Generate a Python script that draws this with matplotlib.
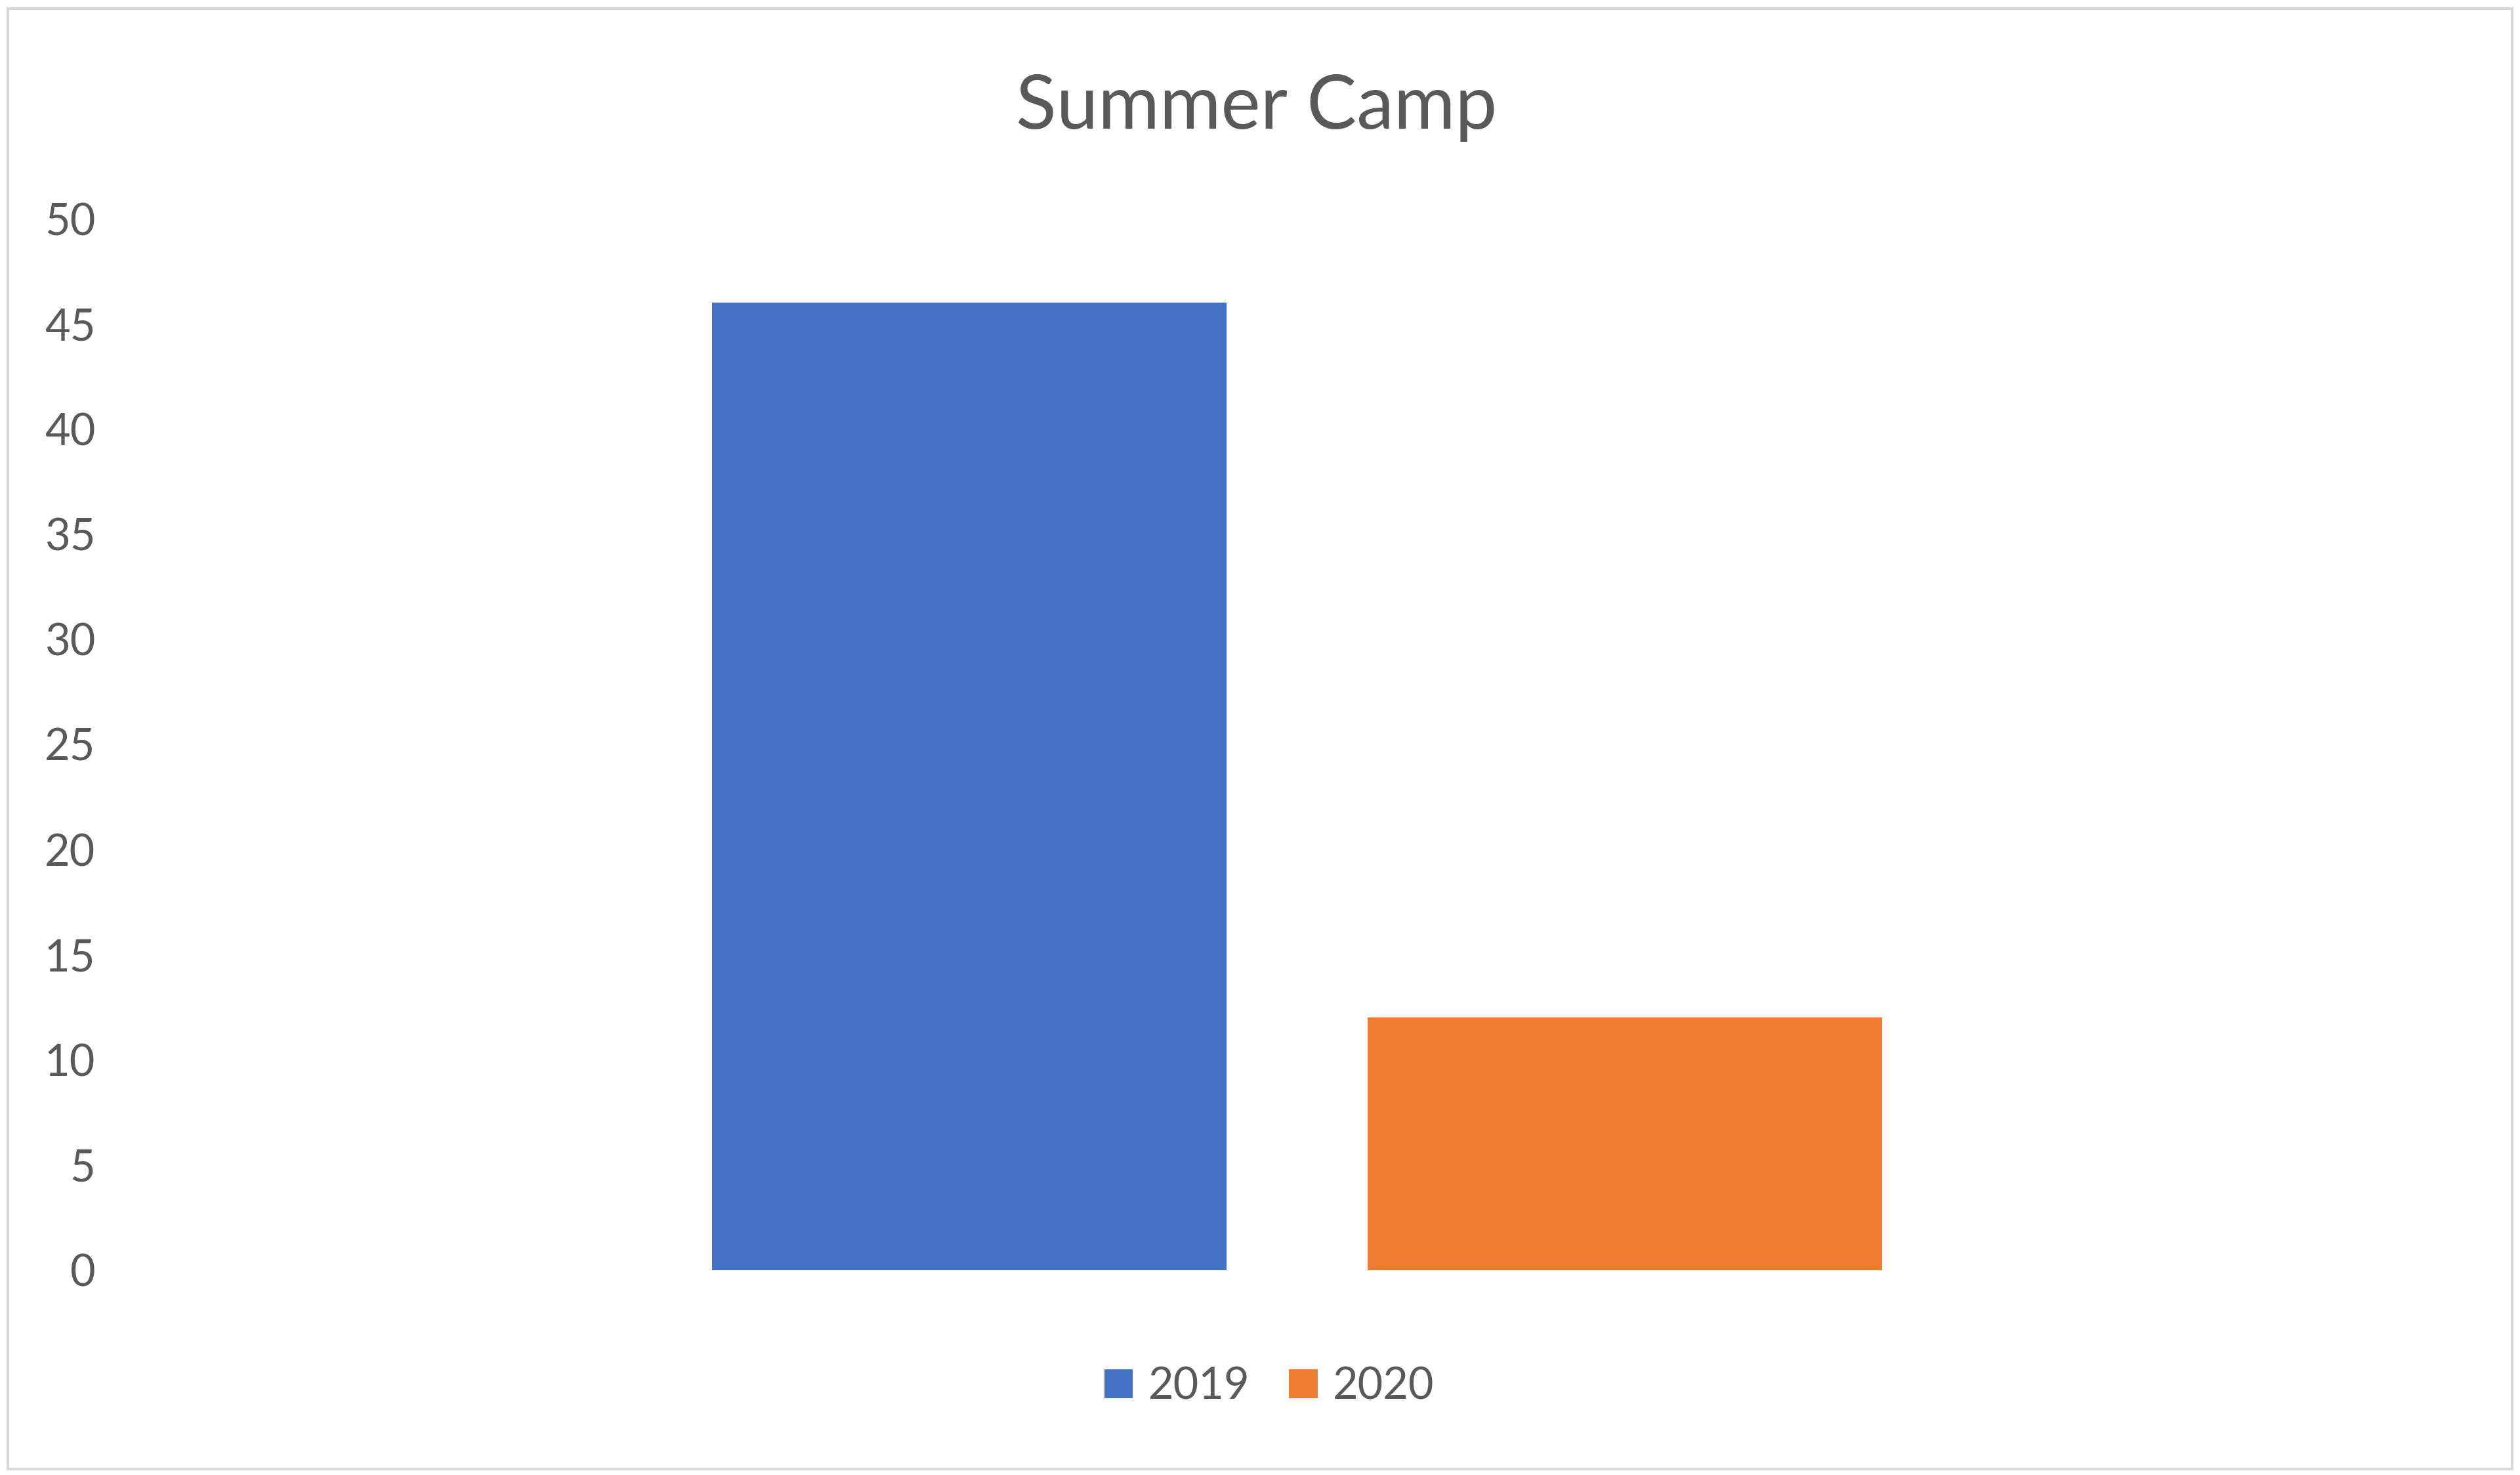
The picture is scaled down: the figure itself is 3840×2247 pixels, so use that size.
import matplotlib
matplotlib.use("Agg")
import matplotlib.pyplot as plt
from matplotlib.patches import Rectangle, Patch

# data
series = ['2019', '2020']
values = [46, 12]
colors = ['#4472C4', '#ED7D31']
yticks = [0, 5, 10, 15, 20, 25, 30, 35, 40, 45, 50]

text_color = '#595959'
plt.rcParams['font.family'] = ['Lato', 'DejaVu Sans']

fig = plt.figure(figsize=(38.4, 22.47), dpi=100)
fig.patch.set_facecolor('white')

ax = fig.add_axes([0.04, 0.1389, 0.945, 0.7129])
positions = list(range(len(series)))
ax.bar(positions, values, width=0.785, color=colors)

ax.set_xlim(-1.324, 2.307)
ax.set_ylim(0, 50)
ax.set_yticks(yticks)
ax.set_yticklabels([str(t) for t in yticks])
ax.set_xticks([])
ax.tick_params(axis='y', length=0, pad=6, labelsize=48, labelcolor=text_color)
for s in ax.spines.values():
    s.set_visible(False)

fig.text(0.4987, 0.927, 'Summer Camp', ha='center', va='center',
         fontsize=82, color=text_color)

handles = [Patch(facecolor=c, label=s) for s, c in zip(series, colors)]
fig.legend(handles=handles, loc='center', bbox_to_anchor=(0.5037, 0.060),
           ncol=2, frameon=False, fontsize=48, labelcolor=text_color,
           handlelength=0.65, handleheight=0.65, handletextpad=0.35,
           columnspacing=0.9)

# light grey chart border
fig.patches.append(Rectangle((0.003, 0.004), 0.994, 0.99, transform=fig.transFigure,
                             fill=False, edgecolor='#D9D9D9', linewidth=3))

fig.savefig('out.png', dpi=100)
